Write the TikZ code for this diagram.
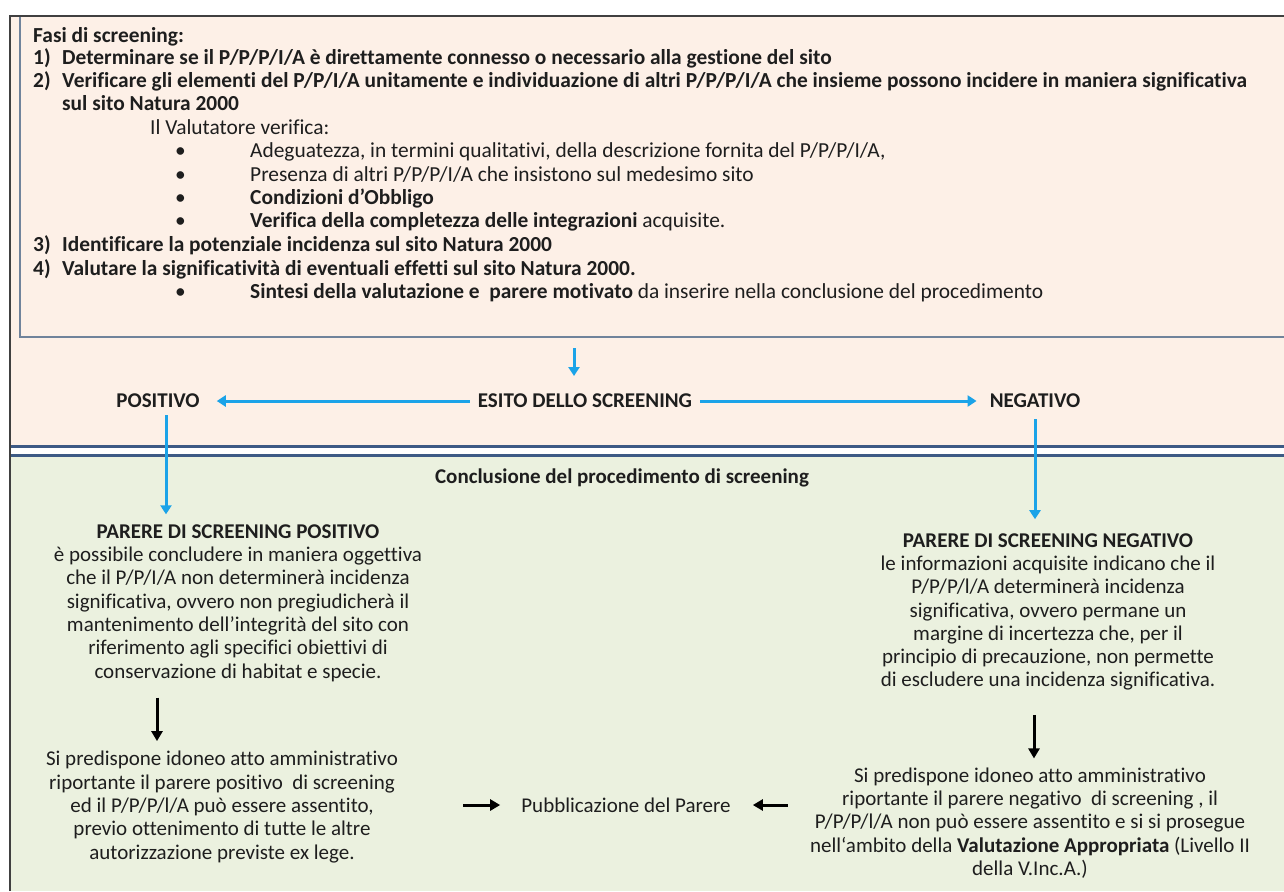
\documentclass[tikz,border=0pt]{standalone}
\usepackage{fontspec}
\setmainfont{Carlito}[Ligatures=NoCommon]
\usetikzlibrary{arrows.meta}
\definecolor{peach}{HTML}{FDF0E7}
\definecolor{sage}{HTML}{EBF1DF}
\definecolor{arrblue}{HTML}{1BA3E8}
\definecolor{navy}{HTML}{3D5A85}
\definecolor{boxline}{HTML}{70839B}
\definecolor{txt}{HTML}{1E1E1E}
\definecolor{frame}{HTML}{404040}
\tikzset{
  lbl/.style={inner sep=0pt, text=txt, font=\fontsize{21}{23.3}\selectfont},
  lblb/.style={lbl, font=\fontsize{21}{23.3}\selectfont\bfseries},
  top/.style={lbl, anchor=base west, font=\fontsize{21.4}{23.3}\selectfont},
  topb/.style={lbl, anchor=base west, font=\fontsize{21.4}{23.3}\selectfont\bfseries},
  blk/.style={lbl, align=center},
  barrow/.style={draw=arrblue, line width=3pt, -{Triangle[width=11pt,length=9pt]}},
  karrow/.style={draw=black, line width=3pt, -{Triangle[width=11pt,length=10pt]}},
}
\begin{document}
\begin{tikzpicture}[x=1pt,y=-1pt]
\useasboundingbox (0,0) rectangle (1284,891);
% backgrounds
\fill[white] (0,0) rectangle (1284,891);
\fill[peach] (10,16) rectangle (1284,446);
\fill[sage] (10,454) rectangle (1284,891);
\fill[white] (10,446) rectangle (1284,454);
\draw[navy, line width=3pt] (10,446) -- (1284,446);
\draw[navy, line width=3pt] (10,455) -- (1284,455);
\draw[frame, line width=2pt] (10,891) -- (10,16) -- (1284,16);
\draw[boxline, line width=2.5pt] (20,17) -- (20,337) -- (1284,337);

% phases text
\node[topb] (t0) at (33,43) {Fasi di screening:};
\node[topb] (n1) at (33,64) {1)};
\node[topb] (t1) at (62,64) {Determinare se il P/P/P/I/A è direttamente connesso o necessario alla gestione del sito};
\node[topb] (n2) at (33,87) {2)};
\node[topb] (t2) at (62,87) {Verificare gli elementi del P/P/I/A unitamente e individuazione di altri P/P/P/I/A che insieme possono incidere in maniera significativa};
\node[topb] (t2b) at (62,110) {sul sito Natura 2000};
\node[top] (t3) at (150,134) {Il Valutatore verifica:};
\node[top] (b1) at (175,157) {•};
\node[top] (t4) at (250,157) {Adeguatezza, in termini qualitativi, della descrizione fornita del P/P/P/I/A,};
\node[top] (b2) at (175,181) {•};
\node[top] (t5) at (250,181) {Presenza di altri P/P/P/I/A che insistono sul medesimo sito};
\node[top] (b3) at (175,204) {•};
\node[topb] (t6) at (250,204) {Condizioni d’Obbligo};
\node[top] (b4) at (175,227) {•};
\node[top] (t7) at (250,227) {\textbf{Verifica della completezza delle integrazioni} acquisite.};
\node[topb] (n3) at (33,251) {3)};
\node[topb] (t8) at (62,251) {Identificare la potenziale incidenza sul sito Natura 2000};
\node[topb] (n4) at (33,275) {4)};
\node[topb] (t9) at (62,275) {Valutare la significatività di eventuali effetti sul sito Natura 2000.};
\node[top] (b5) at (175,298) {•};
\node[top] (t10) at (250,298) {\textbf{Sintesi della valutazione e\ \ parere motivato} da inserire nella conclusione del procedimento};

% esito row
\coordinate (boxout) at (574,348);
\node[lblb, anchor=base] (esito) at (585,407) {ESITO DELLO SCREENING};
\node[lblb, anchor=base] (pos) at (158,407) {POSITIVO};
\node[lblb, anchor=base] (neg) at (1035,407) {NEGATIVO};
\draw[barrow] (boxout) -- (574,376);
\draw[barrow] ([xshift=-8pt]esito.west |- 0,401) -- ([xshift=17pt]pos.east |- 0,401);
\draw[barrow] ([xshift=8pt]esito.east |- 0,401) -- ([xshift=-13pt]neg.west |- 0,401);

\node[lblb, anchor=base] (concl) at (622,483) {Conclusione del procedimento di screening};

\node[blk] (ppos) at (238,603) {\textbf{PARERE DI SCREENING POSITIVO}\\
è possibile concludere in maniera oggettiva\\
che il P/P/I/A non determinerà incidenza\\
significativa, ovvero non pregiudicherà il\\
mantenimento dell'integrità del sito con\\
riferimento agli specifici obiettivi di\\
conservazione di habitat e specie.};
\node[blk] (pneg) at (1048,612) {\textbf{PARERE DI SCREENING NEGATIVO}\\
le informazioni acquisite indicano che il\\
P/P/P/l/A determinerà incidenza\\
significativa, ovvero permane un\\
margine di incertezza che, per il\\
principio di precauzione, non permette\\
di escludere una incidenza significativa.};

\draw[barrow] (pos.south -| 166,0) ++(0,8) -- ([yshift=10pt]ppos.north -| 166,0);
\draw[barrow] (neg.south -| 1035,0) ++(0,12) -- ([yshift=14pt]pneg.north -| 1035,0);

\node[blk] (atpos) at (222,807) {Si predispone idoneo atto amministrativo\\
riportante il parere positivo\ \ di screening\\
ed il P/P/P/l/A può essere assentito,\\
previo ottenimento di tutte le altre\\
autorizzazione previste ex lege.};
\node[blk] (atneg) at (1030,823) {Si predispone idoneo atto amministrativo\\
riportante il parere negativo\ \ di screening , il\\
P/P/P/l/A non può essere assentito e si si prosegue\\
nell‘ambito della \textbf{Valutazione Appropriata} (Livello II\\
della V.Inc.A.)};
\node[lbl] (pub) at (626,805) {Pubblicazione del Parere};

\draw[karrow] ([yshift=-16pt]ppos.south -| 157,0) -- ([yshift=10pt]atpos.north -| 157,0);
\draw[karrow] ([yshift=-24pt]pneg.south -| 1034,0) -- ([yshift=9pt]atneg.north -| 1034,0);
\draw[karrow] ([xshift=-58pt]pub.west) -- ([xshift=-21pt]pub.west);
\draw[karrow] ([xshift=57pt]pub.east) -- ([xshift=22pt]pub.east);
\end{tikzpicture}
\end{document}
